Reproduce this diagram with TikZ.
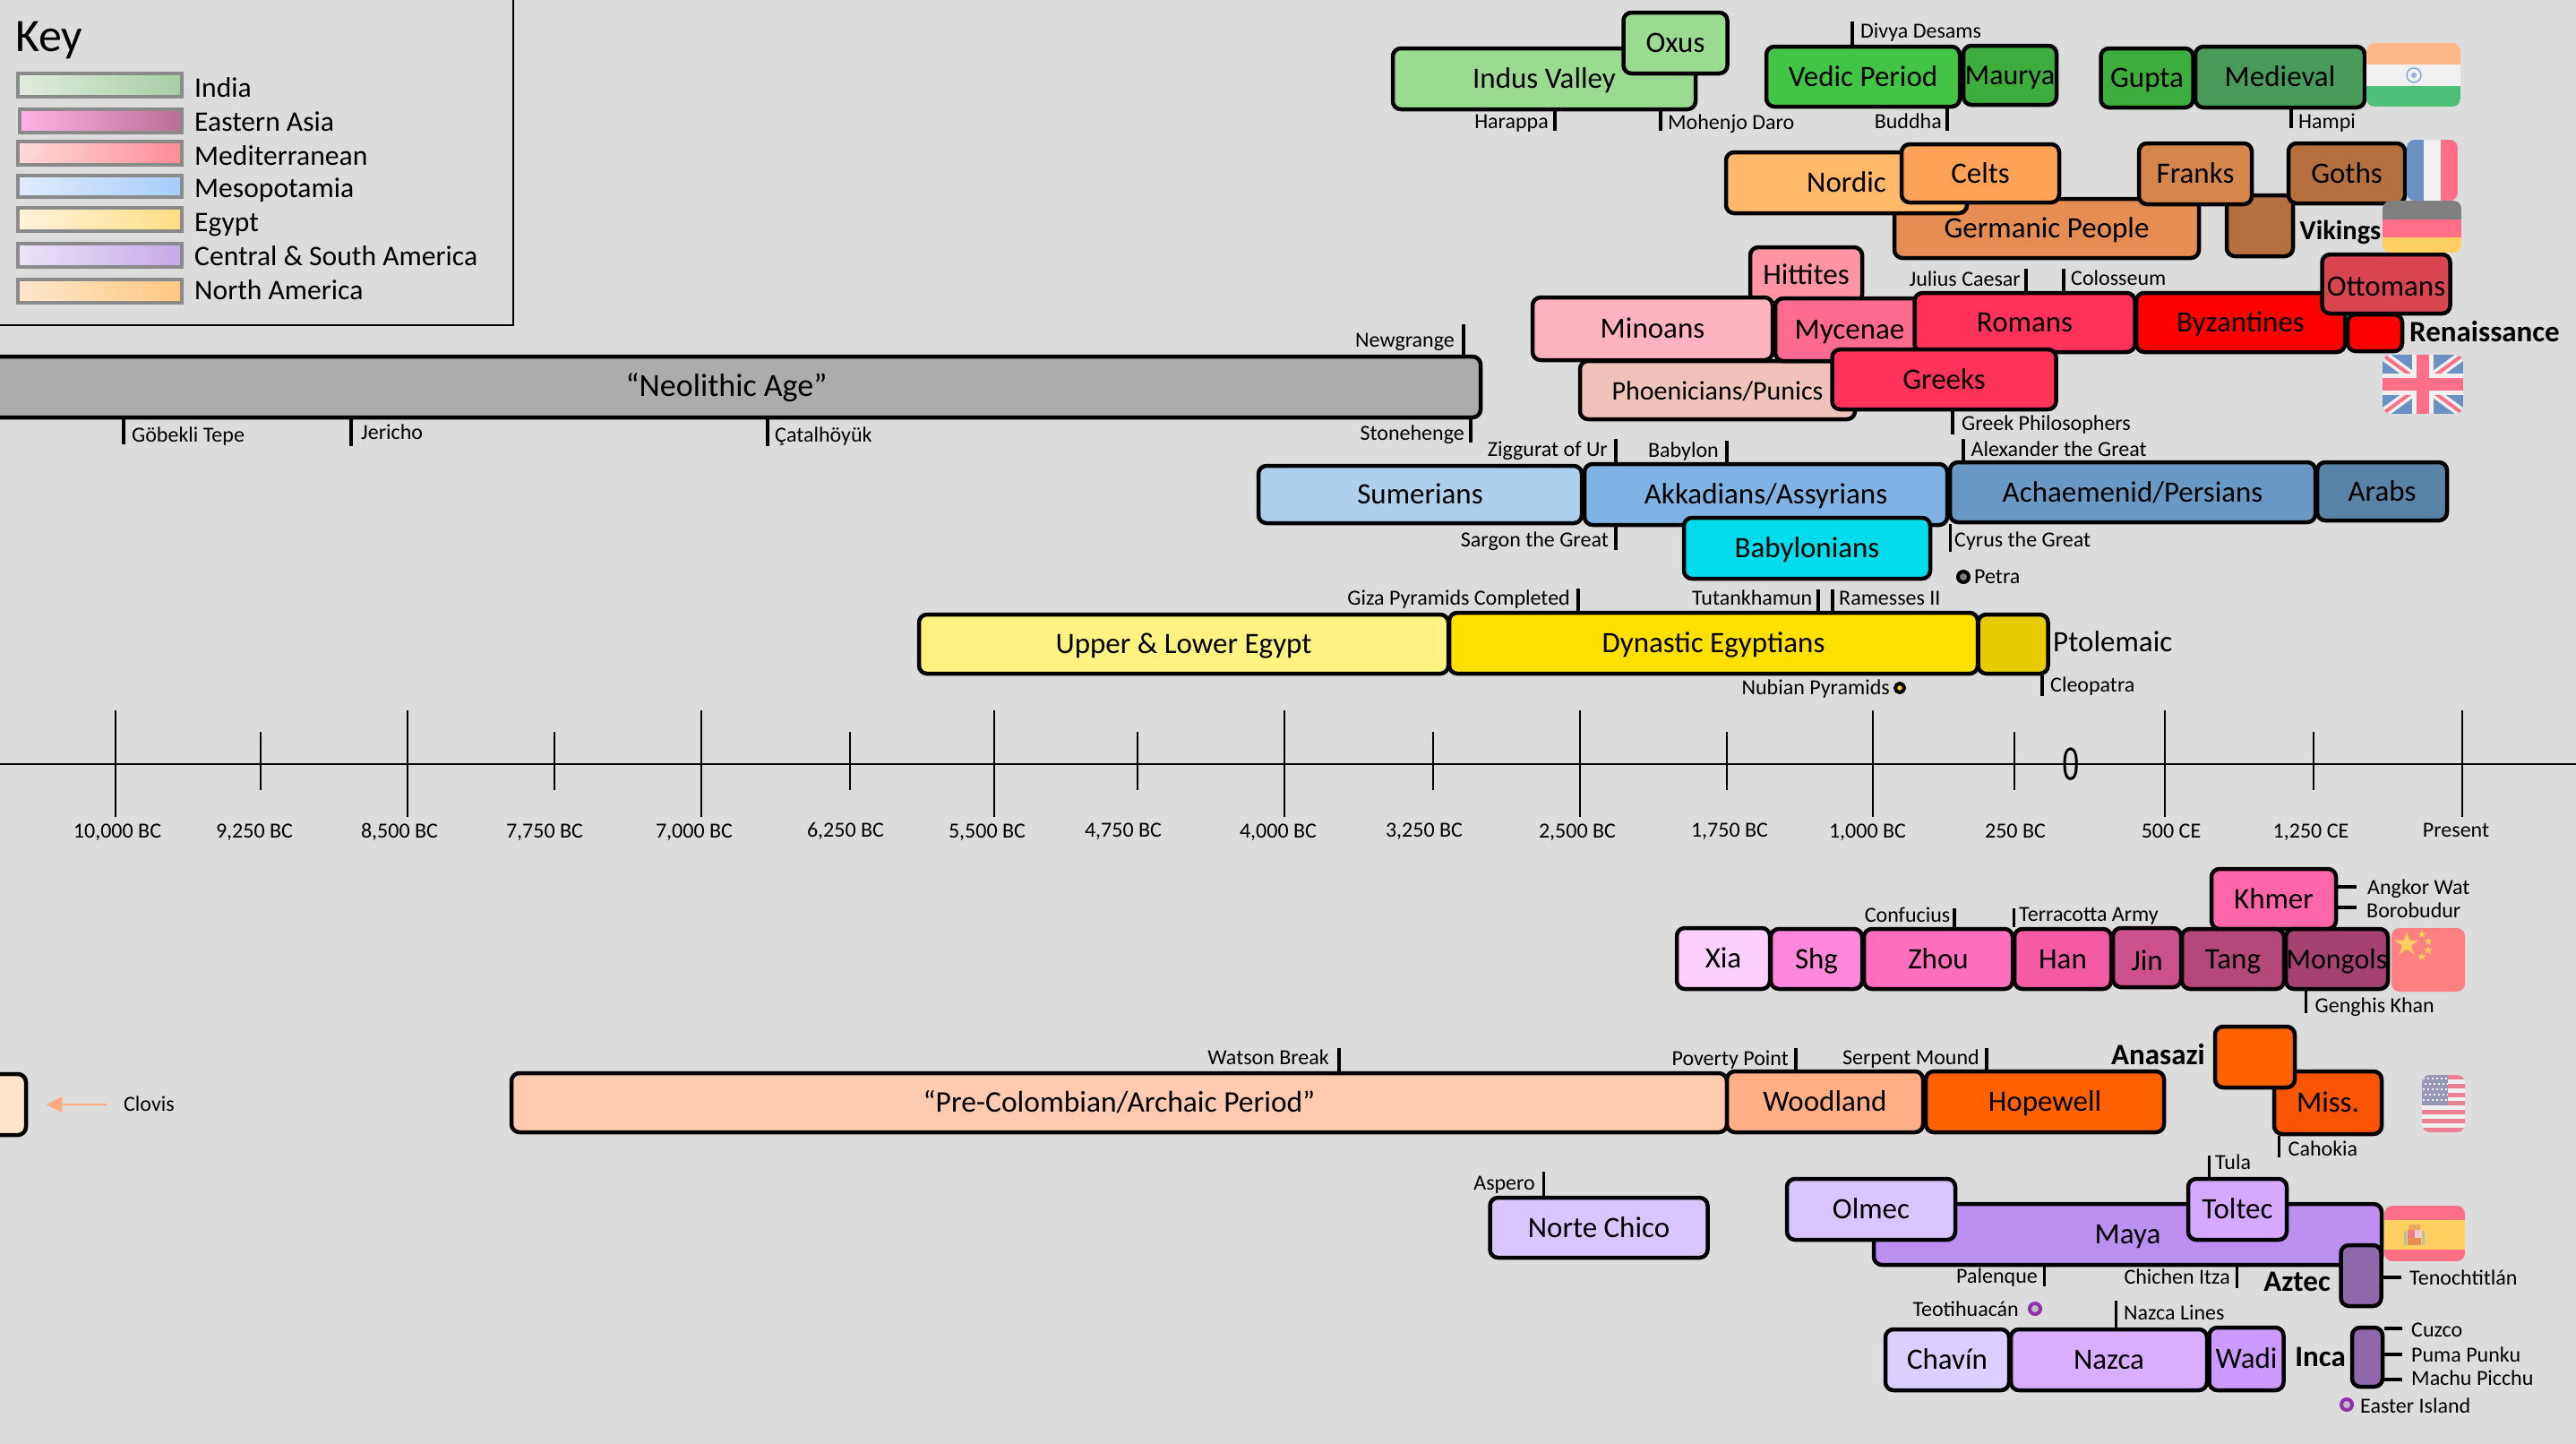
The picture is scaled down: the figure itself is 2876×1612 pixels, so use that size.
\documentclass[tikz,border=0pt]{standalone}
\usepackage{fontspec}
\setmainfont{Carlito}
\usetikzlibrary{arrows.meta,shapes.geometric}

\definecolor{bgGray}{HTML}{DCDCDC}
\definecolor{keyGray}{HTML}{8A8A8A}
\definecolor{indusCol}{HTML}{9BDB91}
\definecolor{vedicCol}{HTML}{44C444}
\definecolor{mauryaCol}{HTML}{3DAD3D}
\definecolor{medievalCol}{HTML}{4A9A5A}
\definecolor{nordicCol}{HTML}{FFB968}
\definecolor{celtsCol}{HTML}{FFA358}
\definecolor{germanicCol}{HTML}{E58D52}
\definecolor{franksCol}{HTML}{D6854B}
\definecolor{gothsCol}{HTML}{B4703F}
\definecolor{hittitesCol}{HTML}{FF94A5}
\definecolor{minoansCol}{HTML}{FFB3C0}
\definecolor{mycenaeCol}{HTML}{FF6A90}
\definecolor{romansCol}{HTML}{FF3359}
\definecolor{phoenCol}{HTML}{F0C2BA}
\definecolor{ottomansCol}{HTML}{D9454E}
\definecolor{neoCol}{HTML}{ACACAC}
\definecolor{sumerCol}{HTML}{ACD0EE}
\definecolor{akkadCol}{HTML}{80B3E4}
\definecolor{persCol}{HTML}{6A98C4}
\definecolor{arabsCol}{HTML}{5A83A8}
\definecolor{babylonCol}{HTML}{00DCEC}
\definecolor{upperCol}{HTML}{FFF280}
\definecolor{dynastCol}{HTML}{FFE000}
\definecolor{ptolCol}{HTML}{E5CC00}
\definecolor{xiaCol}{HTML}{FDCFFF}
\definecolor{shgCol}{HTML}{FF88DD}
\definecolor{zhouCol}{HTML}{FF6FBE}
\definecolor{hanCol}{HTML}{F55BA2}
\definecolor{jinCol}{HTML}{CD528B}
\definecolor{tangCol}{HTML}{B44878}
\definecolor{mongolsCol}{HTML}{A54270}
\definecolor{khmerCol}{HTML}{FF66AA}
\definecolor{preColCol}{HTML}{FFCBB0}
\definecolor{woodCol}{HTML}{FFAE85}
\definecolor{hopeCol}{HTML}{FF6000}
\definecolor{missCol}{HTML}{F95505}
\definecolor{clovisCol}{HTML}{FFE4CC}
\definecolor{clovisArrow}{HTML}{FFAA80}
\definecolor{chicoCol}{HTML}{D9C5FF}
\definecolor{mayaCol}{HTML}{BB90F0}
\definecolor{toltecCol}{HTML}{D5A9FF}
\definecolor{chavinCol}{HTML}{DACFFF}
\definecolor{nazcaCol}{HTML}{D9AEFF}
\definecolor{wadiCol}{HTML}{CD9BFF}
\definecolor{incaCol}{HTML}{8E68AB}
\definecolor{dotPurple}{HTML}{9030B0}
\definecolor{flagPink}{HTML}{FF7088}
\definecolor{flagBlue}{HTML}{6A90C4}
\definecolor{flagWhite}{HTML}{F0F0F0}
\definecolor{flagYellow}{HTML}{FFD060}
\definecolor{flagOrange}{HTML}{FFB989}
\definecolor{flagGreen}{HTML}{4DC07A}
\definecolor{flagRed}{HTML}{FF8080}
\definecolor{usPink}{HTML}{EE8095}
\definecolor{usBlue}{HTML}{9898B8}
\definecolor{shieldA}{HTML}{F07A80}
\definecolor{shieldB}{HTML}{F0C8D0}
\definecolor{shieldC}{HTML}{E89050}
\definecolor{crownCol}{HTML}{E8A860}
\definecolor{pillarCol}{HTML}{B8C0A8}
\definecolor{indiaL}{HTML}{E2ECDF}
\definecolor{indiaR}{HTML}{A6CDA4}
\definecolor{asiaL}{HTML}{FFB3E6}
\definecolor{asiaR}{HTML}{B96E94}
\definecolor{medL}{HTML}{FFDADA}
\definecolor{medR}{HTML}{FF8C96}
\definecolor{mesoL}{HTML}{E2ECFC}
\definecolor{mesoR}{HTML}{A6CDFB}
\definecolor{egyptL}{HTML}{FDF3DC}
\definecolor{egyptR}{HTML}{FDDD84}
\definecolor{centralL}{HTML}{EBE4F8}
\definecolor{centralR}{HTML}{C5AAE8}
\definecolor{northL}{HTML}{FDE6CD}
\definecolor{northR}{HTML}{FDC880}

\tikzset{
  period/.style={draw=black,line width=4.5pt,rounded corners=9pt,inner sep=0pt,
    text height=21pt,text depth=0pt,font=\fontsize{33}{38}\selectfont},
  site/.style={inner sep=0pt,text height=15pt,text depth=0pt,font=\fontsize{24}{28}\selectfont},
  bigname/.style={inner sep=0pt,text height=21pt,text depth=0pt,font=\fontsize{33}{38}\selectfont},
  boldname/.style={bigname,font=\fontsize{33}{38}\selectfont\bfseries},
  keyname/.style={inner sep=0pt,anchor=west,text height=21pt,text depth=0pt,font=\fontsize{31.6}{36}\selectfont},
  keybox/.style={draw=keyGray,line width=4pt},
  tick/.style={line width=4pt},
  thintick/.style={line width=3pt},
  bigdot/.style={circle,line width=4pt,inner sep=0pt,minimum size=12pt},
  majortick/.style={line width=2pt},
}

\begin{document}
\begin{tikzpicture}[x=1pt,y=-1pt]

\clip (0,0) rectangle (2876,1612);
\fill[bgGray] (0,0) rectangle (2876,1612);

% key
\node[inner sep=0pt,anchor=west,text height=32pt,text depth=0pt,font=\fontsize{52}{60}\selectfont] (keyTitle) at (17,41) {Key};
\draw[line width=2.5pt] (0,363) -- (573,363) -- (573,0);
\shadedraw[keybox,left color=indiaL,right color=indiaR] (20,82) rectangle (203,108);
\shadedraw[keybox,left color=asiaL,right color=asiaR] (22,122) rectangle (203,148);
\shadedraw[keybox,left color=medL,right color=medR] (20,158) rectangle (203,184);
\shadedraw[keybox,left color=mesoL,right color=mesoR] (20,196) rectangle (203,220);
\shadedraw[keybox,left color=egyptL,right color=egyptR] (20,232) rectangle (203,258);
\shadedraw[keybox,left color=centralL,right color=centralR] (20,272) rectangle (203,298);
\shadedraw[keybox,left color=northL,right color=northR] (20,312) rectangle (203,338);
\node[keyname] (keyIndia) at (217,98) {India};
\node[keyname] (keyAsia) at (217,136) {Eastern Asia};
\node[keyname] (keyMed) at (217,174) {Mediterranean};
\node[keyname] (keyMeso) at (217,210) {Mesopotamia};
\node[keyname] (keyEgypt) at (217,248) {Egypt};
\node[keyname] (keyCentral) at (217,286) {Central \& South America};
\node[keyname] (keyNorth) at (217,324) {North America};

% india
\node[period,fill=indusCol,minimum width=338,minimum height=68] (indus) at (1724,88) {Indus Valley};
\node[period,fill=indusCol,minimum width=116,minimum height=68] (oxus) at (1870.5,48) {Oxus};
\node[period,fill=vedicCol,minimum width=216,minimum height=67] (vedic) at (2080,85.5) {Vedic Period};
\node[period,fill=mauryaCol,minimum width=104,minimum height=66,font=\fontsize{32}{38}\selectfont] (maurya) at (2244,84) {Maurya};
\node[period,fill=mauryaCol,minimum width=103,minimum height=66] (gupta) at (2397,87) {Gupta};
\node[period,fill=medievalCol,minimum width=189,minimum height=68] (medieval) at (2545.5,86) {Medieval};

% northern europe
\node[period,fill=germanicCol,minimum width=340,minimum height=66] (germanic) at (2285,255) {Germanic People};
\node[period,fill=gothsCol,minimum width=74,minimum height=68] (vikings) at (2523,252) {};
\node[period,fill=nordicCol,minimum width=269,minimum height=68] (nordic) at (2061.5,204) {Nordic};
\node[period,fill=celtsCol,minimum width=176,minimum height=65] (celts) at (2211,193.5) {Celts};
\node[period,fill=franksCol,minimum width=126,minimum height=68] (franks) at (2451,194) {Franks};
\node[period,fill=gothsCol,minimum width=130,minimum height=67] (goths) at (2620,193.5) {Goths};
\node[boldname,anchor=west,font=\fontsize{30.5}{38}\selectfont\bfseries] (vikingsName) at (2567.5,257) {Vikings};

% mediterranean
\node[period,fill=hittitesCol,minimum width=125,minimum height=62] (hittites) at (2016.5,307) {Hittites};
\node[period,fill=phoenCol,minimum width=307,minimum height=65,font=\fontsize{30}{38}\selectfont] (phoen) at (1917.5,435.5) {Phoenicians/Punics};
\node[period,fill=mycenaeCol,minimum width=166,minimum height=70] (mycenae) at (2065,368) {Mycenae};
\node[period,fill=minoansCol,minimum width=268,minimum height=70] (minoans) at (1845,367) {Minoans};
\node[period,fill=romansCol,minimum width=246,minimum height=66] (romans) at (2260.5,360) {Romans};
\node[period,fill=romansCol,minimum width=250,minimum height=67] (greeks) at (2170.5,423.5) {Greeks};
\node[period,fill=red,minimum width=233,minimum height=66] (byz) at (2501.5,360) {Byzantines};
\node[period,fill=red,minimum width=61,minimum height=41] (renaissance) at (2651.5,371.5) {};
\node[period,fill=ottomansCol,minimum width=143,minimum height=66,text height=26pt] (ottomans) at (2664,317) {Ottomans};
\node[boldname,anchor=west] (renName) at (2690,371) {Renaissance};

% neolithic
\node[period,fill=neoCol,minimum width=1684,minimum height=68,font=\fontsize{36}{42}\selectfont] (neo) at (811,432) {“Neolithic Age”};

% mesopotamia
\node[period,fill=sumerCol,minimum width=361,minimum height=64] (sumer) at (1585.5,552) {Sumerians};
\node[period,fill=akkadCol,minimum width=405,minimum height=68] (akkad) at (1971.5,552) {Akkadians/Assyrians};
\node[period,fill=babylonCol,minimum width=275,minimum height=68] (babylon) at (2017.5,612) {Babylonians};
\node[period,fill=persCol,minimum width=408,minimum height=67] (persians) at (2381,549.5) {Achaemenid/Persians};
\node[period,fill=arabsCol,minimum width=145,minimum height=65] (arabs) at (2659.5,548.5) {Arabs};

% egypt
\node[period,fill=upperCol,minimum width=591,minimum height=66] (upper) at (1321.5,719) {Upper \& Lower Egypt};
\node[period,fill=dynastCol,minimum width=590,minimum height=68] (dynast) at (1913,718) {Dynastic Egyptians};
\node[period,fill=ptolCol,minimum width=78,minimum height=66] (ptolemaic) at (2247.5,719) {};
\node[bigname,anchor=west] (ptolName) at (2292,717) {Ptolemaic};

% china
\node[period,fill=khmerCol,minimum width=139,minimum height=67] (khmer) at (2538.5,1003.5) {Khmer};
\node[period,fill=xiaCol,minimum width=104,minimum height=68] (xia) at (1924,1070) {Xia};
\node[period,fill=shgCol,minimum width=102,minimum height=67] (shg) at (2028,1070.5) {Shg};
\node[period,fill=zhouCol,minimum width=166,minimum height=67] (zhou) at (2164,1070.5) {Zhou};
\node[period,fill=hanCol,minimum width=108,minimum height=67] (han) at (2303,1070.5) {Han};
\node[period,fill=jinCol,minimum width=76,minimum height=66,text height=28pt] (jin) at (2397,1069) {Jin};
\node[period,fill=tangCol,minimum width=114,minimum height=67] (tang) at (2493,1070.5) {Tang};
\node[period,fill=mongolsCol,minimum width=114,minimum height=67,font=\fontsize{32}{38}\selectfont] (mongols) at (2609,1070.5) {Mongols};

% north america
\node[period,fill=clovisCol,minimum width=80,minimum height=68] (clovisBox) at (-11,1233) {};
\node[period,fill=preColCol,minimum width=1357,minimum height=66,font=\fontsize{33.5}{38}\selectfont] (preCol) at (1249.5,1231) {“Pre-Colombian/Archaic Period”};
\node[period,fill=woodCol,minimum width=219,minimum height=68] (wood) at (2037.5,1230) {Woodland};
\node[period,fill=hopeCol,minimum width=266,minimum height=68] (hope) at (2283,1230) {Hopewell};
\node[period,fill=missCol,minimum width=120,minimum height=70] (miss) at (2599,1231) {Miss.};
\node[period,fill=hopeCol,minimum width=89,minimum height=68] (anasazi) at (2517.5,1180) {};
\node[boldname,anchor=east] (anasaziName) at (2462,1178) {Anasazi};

% central and south america
\node[period,fill=chicoCol,minimum width=243,minimum height=67] (chico) at (1785,1370.5) {Norte Chico};
\node[period,fill=mayaCol,minimum width=567,minimum height=68] (maya) at (2375.5,1378) {Maya};
\node[period,fill=chicoCol,minimum width=188,minimum height=68] (olmec) at (2089,1350) {Olmec};
\node[period,fill=toltecCol,minimum width=110,minimum height=68] (toltec) at (2498,1350) {Toltec};
\node[period,fill=incaCol,minimum width=45,minimum height=68] (aztec) at (2636,1424) {};
\node[boldname,anchor=east] (aztecName) at (2602,1431) {Aztec};
\node[period,fill=chavinCol,minimum width=138,minimum height=68] (chavin) at (2174,1518) {Chavín};
\node[period,fill=nazcaCol,minimum width=219,minimum height=68] (nazca) at (2354.5,1518) {Nazca};
\node[period,fill=wadiCol,minimum width=83,minimum height=70] (wadi) at (2508,1517) {Wadi};
\node[period,fill=incaCol,minimum width=34,minimum height=66] (inca) at (2643,1515) {};
\node[boldname,anchor=east] (incaName) at (2619,1515) {Inca};

% flags
\begin{scope}
\clip[rounded corners=9pt] (2642,48) rectangle (2747,119);
\fill[flagOrange] (2642,48) rectangle (2747,72);
\fill[flagWhite] (2642,72) rectangle (2747,96);
\fill[flagGreen] (2642,96) rectangle (2747,119);
\end{scope}
\draw[flagBlue!80,line width=1.5pt] (2695,84) circle (8);
\fill[flagBlue!70] (2695,84) circle (3);
\begin{scope}
\clip[rounded corners=9pt] (2687,156) rectangle (2744,224);
\fill[flagBlue] (2687,156) rectangle (2706,224);
\fill[flagWhite] (2706,156) rectangle (2725,224);
\fill[flagPink] (2725,156) rectangle (2744,224);
\end{scope}
\begin{scope}
\clip[rounded corners=9pt] (2660,224) rectangle (2748,282);
\fill[gray] (2660,224) rectangle (2748,245);
\fill[flagPink] (2660,245) rectangle (2748,265);
\fill[flagYellow] (2660,265) rectangle (2748,282);
\end{scope}
\begin{scope}
\clip[rounded corners=9pt] (2660,396) rectangle (2750,462);
\fill[flagBlue] (2660,396) rectangle (2750,462);
\draw[flagWhite,line width=11pt] (2660,396) -- (2750,462);
\draw[flagWhite,line width=11pt] (2660,462) -- (2750,396);
\draw[flagPink,line width=4pt] (2660,396) -- (2750,462);
\draw[flagPink,line width=4pt] (2660,462) -- (2750,396);
\fill[flagWhite] (2693,396) rectangle (2717,462);
\fill[flagWhite] (2660,417) rectangle (2750,441);
\fill[flagPink] (2698,396) rectangle (2712,462);
\fill[flagPink] (2660,422) rectangle (2750,436);
\end{scope}
\fill[flagRed,rounded corners=9pt] (2670,1036) rectangle (2752,1107);
\node[star,star points=5,star point ratio=2.6,fill=flagYellow,inner sep=0pt,minimum size=28pt] (starBig) at (2687,1054) {};
\node[star,star points=5,star point ratio=2.6,fill=flagYellow,inner sep=0pt,minimum size=10pt] (starA) at (2704,1043) {};
\node[star,star points=5,star point ratio=2.6,fill=flagYellow,inner sep=0pt,minimum size=10pt] (starB) at (2711,1051) {};
\node[star,star points=5,star point ratio=2.6,fill=flagYellow,inner sep=0pt,minimum size=10pt] (starC) at (2711,1061) {};
\node[star,star points=5,star point ratio=2.6,fill=flagYellow,inner sep=0pt,minimum size=10pt] (starD) at (2704,1068) {};
\begin{scope}
\clip[rounded corners=9pt] (2704,1200) rectangle (2752,1264);
\fill[flagWhite] (2704,1200) rectangle (2752,1264);
\fill[usPink] (2704,1200) rectangle (2752,1205);
\fill[usPink] (2704,1210) rectangle (2752,1215);
\fill[usPink] (2704,1220) rectangle (2752,1225);
\fill[usPink] (2704,1229) rectangle (2752,1234);
\fill[usPink] (2704,1239) rectangle (2752,1244);
\fill[usPink] (2704,1249) rectangle (2752,1254);
\fill[usPink] (2704,1259) rectangle (2752,1264);
\fill[usBlue] (2704,1200) rectangle (2733,1234);
\draw[flagWhite,line width=2pt,dash pattern=on 2pt off 3pt] (2705,1204) -- (2733,1204);
\draw[flagWhite,line width=2pt,dash pattern=on 2pt off 3pt] (2707,1210) -- (2733,1210);
\draw[flagWhite,line width=2pt,dash pattern=on 2pt off 3pt] (2705,1216) -- (2733,1216);
\draw[flagWhite,line width=2pt,dash pattern=on 2pt off 3pt] (2707,1222) -- (2733,1222);
\draw[flagWhite,line width=2pt,dash pattern=on 2pt off 3pt] (2705,1228) -- (2733,1228);
\end{scope}
\begin{scope}
\clip[rounded corners=9pt] (2662,1346) rectangle (2752,1408);
\fill[flagPink] (2662,1346) rectangle (2752,1408);
\fill[flagYellow] (2662,1362) rectangle (2752,1395);
\end{scope}
\fill[shieldC] (2688,1373) rectangle (2703,1390);
\fill[shieldA] (2688,1373) rectangle (2696,1382);
\fill[shieldB] (2696,1373) rectangle (2703,1382);
\fill[crownCol] (2689,1367) rectangle (2702,1373);
\fill[pillarCol] (2684,1374) rectangle (2687,1390);
\fill[pillarCol] (2704,1374) rectangle (2707,1390);

% timeline
\coordinate (axisL) at (0,853);
\coordinate (axisR) at (2876,853);
\draw[line width=2pt] (axisL) -- (axisR);
\coordinate (tickA) at (129,793);
\coordinate (tickB) at (291,817);
\coordinate (tickC) at (455,793);
\coordinate (tickD) at (619,817);
\coordinate (tickE) at (782.5,793);
\coordinate (tickF) at (949,817);
\coordinate (tickG) at (1110,793);
\coordinate (tickH) at (1270,817);
\coordinate (tickI) at (1434,793);
\coordinate (tickJ) at (1600,817);
\coordinate (tickK) at (1764,793);
\coordinate (tickL) at (1928,817);
\coordinate (tickM) at (2091,793);
\coordinate (tickN) at (2249,817);
\coordinate (tickO) at (2417,793);
\coordinate (tickP) at (2583,817);
\coordinate (tickQ) at (2749,793);
\draw[majortick] (tickA) -- ++(0,119);
\draw[majortick] (tickB) -- ++(0,65);
\draw[majortick] (tickC) -- ++(0,119);
\draw[majortick] (tickD) -- ++(0,65);
\draw[majortick] (tickE) -- ++(0,119);
\draw[majortick] (tickF) -- ++(0,65);
\draw[majortick] (tickG) -- ++(0,119);
\draw[majortick] (tickH) -- ++(0,65);
\draw[majortick] (tickI) -- ++(0,119);
\draw[majortick] (tickJ) -- ++(0,65);
\draw[majortick] (tickK) -- ++(0,119);
\draw[majortick] (tickL) -- ++(0,65);
\draw[majortick] (tickM) -- ++(0,119);
\draw[majortick] (tickN) -- ++(0,65);
\draw[majortick] (tickO) -- ++(0,119);
\draw[majortick] (tickP) -- ++(0,65);
\draw[majortick] (tickQ) -- ++(0,119);
\node[inner sep=0pt,text height=35pt,text depth=0pt,font=\fontsize{53}{60}\selectfont\sffamily] (zero) at (2312,853) {\scalebox{0.78}[1]{0}};
\node[site] (yearA) at (131,928) {10,000 BC};
\node[site] (yearB) at (284,928) {9,250 BC};
\node[site] (yearC) at (446,928) {8,500 BC};
\node[site] (yearD) at (608,928) {7,750 BC};
\node[site] (yearE) at (775,928) {7,000 BC};
\node[site] (yearF) at (944,927) {6,250 BC};
\node[site] (yearG) at (1102,928) {5,500 BC};
\node[site] (yearH) at (1254,927) {4,750 BC};
\node[site] (yearI) at (1427,928) {4,000 BC};
\node[site] (yearJ) at (1590,927) {3,250 BC};
\node[site] (yearK) at (1761,928) {2,500 BC};
\node[site] (yearL) at (1931,927) {1,750 BC};
\node[site] (yearM) at (2085,928) {1,000 BC};
\node[site] (yearN) at (2250,928) {250 BC};
\node[site] (yearO) at (2424,928) {500 CE};
\node[site] (yearP) at (2580,928) {1,250 CE};
\node[site] (yearQ) at (2742,927) {Present};

% sites above and below the bars
\coordinate (harappaEnd) at (1736,146);
\draw[tick] (harappaEnd) -- (harappaEnd |- indus.south);
\node[site,anchor=east] (harappa) at (1729,136) {Harappa};
\coordinate (mohenjoEnd) at (1853.5,146);
\draw[tick] (mohenjoEnd) -- (mohenjoEnd |- indus.south);
\node[site,anchor=west] (mohenjo) at (1862,137) {Mohenjo Daro};
\coordinate (divyaEnd) at (2068,24);
\draw[tick] (divyaEnd) -- (divyaEnd |- vedic.north);
\node[site,anchor=west] (divya) at (2077,35) {Divya Desams};
\coordinate (buddhaEnd) at (2173.5,146);
\draw[tick] (buddhaEnd) -- (buddhaEnd |- vedic.south);
\node[site,anchor=east] (buddha) at (2168,136) {Buddha};
\coordinate (hampiEnd) at (2558,143);
\draw[tick] (hampiEnd) -- (hampiEnd |- medieval.south);
\node[site,anchor=west] (hampi) at (2566,136) {Hampi};
\coordinate (caesarEnd) at (2262,300);
\draw[tick] (caesarEnd) -- (caesarEnd |- romans.north);
\node[site,anchor=east] (caesar) at (2256,312) {Julius Caesar};
\coordinate (colosseumEnd) at (2304,300);
\draw[tick] (colosseumEnd) -- (colosseumEnd |- romans.north);
\node[site,anchor=west] (colosseum) at (2312,311) {Colosseum};
\coordinate (philoEnd) at (2180,485);
\draw[tick] (philoEnd) -- (philoEnd |- greeks.south);
\node[site,anchor=west] (philo) at (2190,473) {Greek Philosophers};
\coordinate (alexEnd) at (2191.5,490);
\draw[tick] (alexEnd) -- (alexEnd |- persians.north);
\node[site,anchor=west] (alex) at (2200.5,502) {Alexander the Great};
\coordinate (newgrangeEnd) at (1634,362);
\draw[tick] (newgrangeEnd) -- (newgrangeEnd |- neo.north);
\node[site,anchor=east] (newgrange) at (1624,380) {Newgrange};
\coordinate (stonehengeEnd) at (1642,494);
\draw[tick] (stonehengeEnd) -- (stonehengeEnd |- neo.south);
\node[site,anchor=east] (stonehenge) at (1635,484) {Stonehenge};
\coordinate (gobekliEnd) at (137.5,496);
\draw[tick] (gobekliEnd) -- (gobekliEnd |- neo.south);
\node[site,anchor=west] (gobekli) at (147,486) {Göbekli Tepe};
\coordinate (jerichoEnd) at (392,498);
\draw[tick] (jerichoEnd) -- (jerichoEnd |- neo.south);
\node[site,anchor=west] (jericho) at (403,483) {Jericho};
\coordinate (catalEnd) at (857,498);
\draw[tick] (catalEnd) -- (catalEnd |- neo.south);
\node[site,anchor=west] (catal) at (865,486) {Çatalhöyük};
\coordinate (urEnd) at (1804,490);
\draw[tick] (urEnd) -- (urEnd |- akkad.north);
\node[site,anchor=east] (ur) at (1795,502) {Ziggurat of Ur};
\coordinate (babylonEnd) at (1928,492);
\draw[tick] (babylonEnd) -- (babylonEnd |- akkad.north);
\node[site,anchor=east] (babylonCity) at (1919,503) {Babylon};
\coordinate (sargonEnd) at (1804,614);
\draw[tick] (sargonEnd) -- (sargonEnd |- akkad.south);
\node[site,anchor=east] (sargon) at (1796,603) {Sargon the Great};
\coordinate (cyrusEnd) at (2177,616);
\draw[thintick] (cyrusEnd) -- (cyrusEnd |- persians.south);
\node[site,anchor=west] (cyrus) at (2182,603) {Cyrus the Great};
\node[bigdot,draw=black,fill=gray] (petraDot) at (2192,644) {};
\node[site,anchor=west] (petra) at (2204,644) {Petra};
\coordinate (gizaEnd) at (1762,657);
\draw[tick] (gizaEnd) -- (gizaEnd |- dynast.north);
\node[site,anchor=east] (giza) at (1753,668) {Giza Pyramids Completed};
\coordinate (tutEnd) at (2030,658);
\draw[tick] (tutEnd) -- (tutEnd |- dynast.north);
\node[site,anchor=east] (tut) at (2023.5,668) {Tutankhamun};
\coordinate (ramessesEnd) at (2046,658);
\draw[tick] (ramessesEnd) -- (ramessesEnd |- dynast.north);
\node[site,anchor=west] (ramesses) at (2053,668) {Ramesses II};
\node[bigdot,draw=black,fill=dynastCol,minimum size=10pt] (nubianDot) at (2121,768) {};
\node[site,anchor=east] (nubian) at (2110,768) {Nubian Pyramids};
\coordinate (cleoEnd) at (2280,777);
\draw[tick] (cleoEnd) -- (cleoEnd |- ptolemaic.south);
\node[site,anchor=west] (cleo) at (2289,765) {Cleopatra};
\coordinate (angkorEnd) at (2630.5,990);
\draw[tick] (angkorEnd) -- (angkorEnd -| khmer.east);
\node[site,anchor=west] (angkor) at (2643,991) {Angkor Wat};
\coordinate (boroEnd) at (2630.5,1013);
\draw[tick] (boroEnd) -- (boroEnd -| khmer.east);
\node[site,anchor=west] (boro) at (2642,1017) {Borobudur};
\coordinate (confuciusEnd) at (2182,1014);
\draw[tick] (confuciusEnd) -- (confuciusEnd |- zhou.north);
\node[site,anchor=east] (confucius) at (2177.5,1022) {Confucius};
\coordinate (terraEnd) at (2248,1014);
\draw[thintick] (terraEnd) -- (terraEnd |- han.north);
\node[site,anchor=west] (terra) at (2254,1021) {Terracotta Army};
\coordinate (genghisEnd) at (2574,1131);
\draw[thintick] (genghisEnd) -- (genghisEnd |- mongols.south);
\node[site,anchor=west] (genghis) at (2584.5,1123) {Genghis Khan};
\node[site,anchor=west] (clovis) at (138,1233) {Clovis};
\draw[-{Triangle[length=18pt,width=17pt]},clovisArrow,line width=2pt,shorten <=19pt,shorten >=20pt] (clovis.west) -- (clovisBox.east);
\coordinate (watsonEnd) at (1495,1170);
\draw[tick] (watsonEnd) -- (watsonEnd |- preCol.north);
\node[site,anchor=east] (watson) at (1484,1181) {Watson Break};
\coordinate (povertyEnd) at (2004.5,1170);
\draw[tick] (povertyEnd) -- (povertyEnd |- wood.north);
\node[site,anchor=east] (poverty) at (1997,1182) {Poverty Point};
\coordinate (serpentEnd) at (2218,1170);
\draw[tick] (serpentEnd) -- (serpentEnd |- hope.north);
\node[site,anchor=east] (serpent) at (2210,1181) {Serpent Mound};
\coordinate (cahokiaEnd) at (2544,1292);
\draw[thintick] (cahokiaEnd) -- (cahokiaEnd |- miss.south);
\node[site,anchor=west] (cahokia) at (2554.5,1283) {Cahokia};
\coordinate (tulaEnd) at (2466.5,1290);
\draw[thintick] (tulaEnd) -- (tulaEnd |- toltec.north);
\node[site,anchor=west] (tula) at (2473,1298) {Tula};
\coordinate (asperoEnd) at (1723.5,1308);
\draw[thintick] (asperoEnd) -- (asperoEnd |- chico.north);
\node[site,anchor=east] (aspero) at (1714,1321) {Aspero};
\coordinate (palenqueEnd) at (2282,1436);
\draw[thintick] (palenqueEnd) -- (palenqueEnd |- maya.south);
\node[site,anchor=east] (palenque) at (2275,1425) {Palenque};
\coordinate (chichenEnd) at (2497.5,1438);
\draw[thintick] (chichenEnd) -- (chichenEnd |- maya.south);
\node[site,anchor=east] (chichen) at (2490,1426) {Chichen Itza};
\coordinate (tenochEnd) at (2680.5,1426);
\draw[tick] (tenochEnd) -- (tenochEnd -| aztec.east);
\node[site,anchor=west] (tenoch) at (2690,1427) {Tenochtitlán};
\node[bigdot,draw=dotPurple,fill=gray!50] (teotiDot) at (2272,1461) {};
\node[site,anchor=east] (teoti) at (2254,1462) {Teotihuacán};
\coordinate (linesEnd) at (2362,1452);
\draw[thintick] (linesEnd) -- (linesEnd |- nazca.north);
\node[site,anchor=west] (lines) at (2371,1466) {Nazca Lines};
\coordinate (cuzcoEnd) at (2682,1483);
\draw[tick] (cuzcoEnd) -- (cuzcoEnd -| inca.east);
\node[site,anchor=west] (cuzco) at (2692,1485) {Cuzco};
\coordinate (pumaEnd) at (2682,1512);
\draw[tick] (pumaEnd) -- (pumaEnd -| inca.east);
\node[site,anchor=west] (puma) at (2692,1513) {Puma Punku};
\coordinate (machuEnd) at (2682,1540);
\draw[tick] (machuEnd) -- (machuEnd -| inca.east);
\node[site,anchor=west] (machu) at (2692,1539) {Machu Picchu};
\node[bigdot,draw=dotPurple,fill=gray!50] (easterDot) at (2620,1568) {};
\node[site,anchor=west] (easter) at (2635,1570) {Easter Island};

\end{tikzpicture}
\end{document}
